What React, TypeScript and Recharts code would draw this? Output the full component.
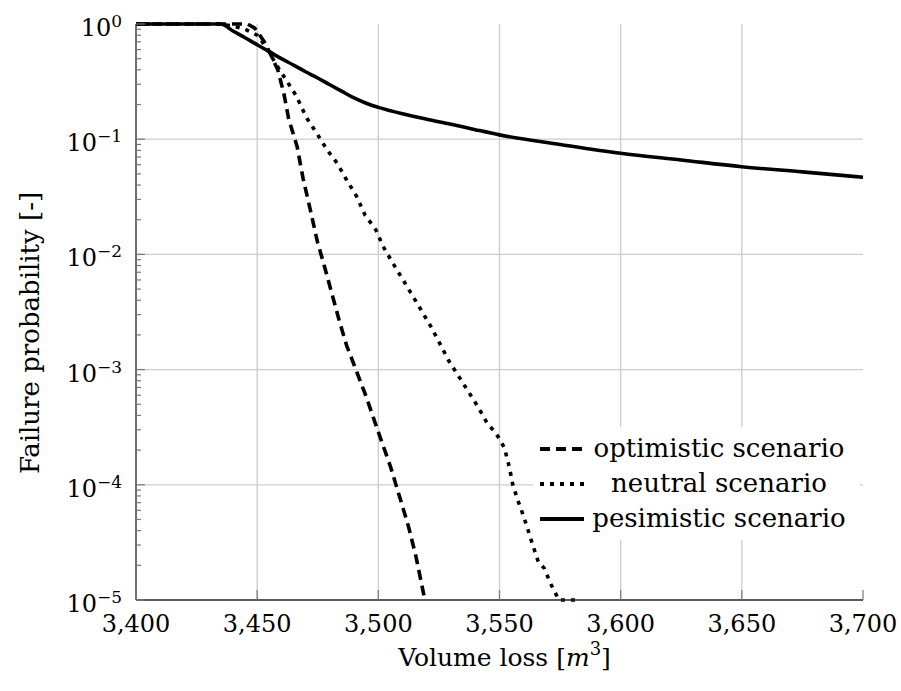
import React from "react"
import {
  LineChart,
  Line,
  XAxis,
  YAxis,
  ReferenceLine,
  Legend,
} from "recharts"

const FONT = '"DejaVu Serif", "Liberation Serif", serif'

// volume loss [m^3] vs. failure probability, one pair of arrays per scenario
const optimisticVolume = [
  3400, 3446, 3449, 3453, 3456, 3458.5, 3461, 3463, 3466.5, 3469, 3472, 3475,
  3477, 3480, 3484, 3487, 3490, 3495, 3499, 3505, 3509, 3512.5, 3515.5, 3519.2,
]
const optimisticProb = [
  1, 1, 0.92, 0.7, 0.52, 0.4, 0.25, 0.15, 0.086, 0.045, 0.024, 0.0125, 0.009,
  0.0053, 0.0026, 0.0016, 0.0011, 0.00058, 0.00033, 0.000144, 0.000076,
  0.000043, 0.000024, 0.00001,
]

const neutralVolume = [
  3400, 3434, 3440, 3445, 3450, 3454, 3457.5, 3461.5, 3466, 3470.5, 3475, 3479,
  3483, 3487, 3491, 3494.5, 3499, 3502, 3506, 3512, 3518, 3522, 3529, 3535,
  3541, 3545, 3548, 3550, 3552, 3554, 3555.5, 3557.5, 3560, 3563.5, 3566,
  3568.5, 3571, 3574.5, 3583.5,
]
const neutralProb = [
  1, 1, 0.96, 0.9, 0.8, 0.62, 0.456, 0.338, 0.24, 0.152, 0.109, 0.08, 0.062,
  0.044, 0.032, 0.022, 0.0163, 0.0117, 0.0084, 0.0052, 0.0032, 0.0023, 0.0012,
  0.00076, 0.00048, 0.00034, 0.00029, 0.00025, 0.00021, 0.000144, 0.0001,
  0.000074, 0.000053, 0.000031, 0.0000215, 0.0000188, 0.000014, 0.00001,
  0.00001,
]

const pessimisticVolume = [
  3400, 3435, 3440, 3445, 3450, 3455, 3460, 3465, 3470, 3475, 3480, 3485, 3490,
  3495, 3500, 3510, 3520, 3530, 3540, 3550, 3575, 3600, 3625, 3650, 3675, 3700,
]
const pessimisticProb = [
  1, 1, 0.87, 0.76, 0.66, 0.575, 0.5, 0.44, 0.385, 0.34, 0.297, 0.26, 0.228,
  0.205, 0.189, 0.166, 0.149, 0.135, 0.121, 0.109, 0.09, 0.0754, 0.066, 0.0577,
  0.052, 0.0467,
]

const xTicks = [3400, 3450, 3500, 3550, 3600, 3650, 3700]
const xTickLabels = ["3,400", "3,450", "3,500", "3,550", "3,600", "3,650", "3,700"]
const yMajorTicks = [1e-5, 1e-4, 1e-3, 1e-2, 1e-1, 1]
const yExponents = ["\u22125", "\u22124", "\u22123", "\u22122", "\u22121", "0"]
const minorMultipliers = [2, 3, 4, 5, 6, 7, 8, 9]

const yMinorTicks = yMajorTicks
  .slice(0, -1)
  .flatMap((d) => minorMultipliers.map((m) => m * d))
const yAllTicks = [...yMajorTicks, ...yMinorTicks].sort((a, b) => a - b)

const toPoints = (vol: number[], prob: number[]) =>
  vol.map((v, i) => ({ volume: v, prob: prob[i] }))

const series = [
  {
    key: "optimistic",
    name: "optimistic scenario",
    data: toPoints(optimisticVolume, optimisticProb),
    dash: "10 6",
    type: "linear" as const,
  },
  {
    key: "neutral",
    name: "neutral scenario",
    data: toPoints(neutralVolume, neutralProb),
    dash: "4 6",
    type: "linear" as const,
  },
  {
    key: "pessimistic",
    name: "pesimistic scenario",
    data: toPoints(pessimisticVolume, pessimisticProb),
    dash: undefined,
    type: "monotone" as const,
  },
]

const CHART_W = 901
const CHART_H = 691
const MARGIN = { top: 24, right: 38, bottom: 0, left: 0 }
const X_AXIS_HEIGHT = 91
const Y_AXIS_WIDTH = 136
const PLOT_BOTTOM = CHART_H - X_AXIS_HEIGHT
const PLOT_MID_X = (Y_AXIS_WIDTH + CHART_W - MARGIN.right) / 2

const TICK_COLOR = "#777"
const GRID_COLOR = "#cccccc"
const FRAME = { stroke: "#222", strokeWidth: 1.3 }

function LeftTick(props: any) {
  const { x, y, payload } = props
  const idx = yMajorTicks.indexOf(payload.value)
  const major = idx >= 0
  return (
    <g>
      <line x1={x} y1={y} x2={x + (major ? 9 : 5)} y2={y} stroke={TICK_COLOR} strokeWidth={1.2} />
      {major && (
        <text x={x - 14} y={y + 12} textAnchor="end" fontFamily={FONT} fontSize={24} fill="#000">
          <tspan>10</tspan>
          <tspan dy={-9} fontSize={17}>
            {yExponents[idx]}
          </tspan>
        </text>
      )}
    </g>
  )
}

function RightTick(props: any) {
  const { x, y, payload } = props
  const major = yMajorTicks.includes(payload.value)
  return <line x1={x} y1={y} x2={x - (major ? 9 : 5)} y2={y} stroke={TICK_COLOR} strokeWidth={1.2} />
}

function BottomTick(props: any) {
  const { x, y, payload } = props
  const idx = xTicks.indexOf(payload.value)
  return (
    <g>
      <line x1={x} y1={y} x2={x} y2={y - 10} stroke={TICK_COLOR} strokeWidth={1.2} />
      <text x={x} y={y + 32} textAnchor="middle" fontFamily={FONT} fontSize={24} fill="#000">
        {xTickLabels[idx]}
      </text>
    </g>
  )
}

function TopTick(props: any) {
  const { x, y } = props
  return <line x1={x} y1={y} x2={x} y2={y + 10} stroke={TICK_COLOR} strokeWidth={1.2} />
}

// axis titles, drawn over the chart svg
const Y_TITLE_X = 39
const Y_TITLE_Y = 333

function AxisTitles() {
  return (
    <svg
      width={CHART_W}
      height={CHART_H}
      style={{ position: "absolute", left: 0, top: 0, pointerEvents: "none" }}
    >
      <text
        x={PLOT_MID_X + 5}
        y={PLOT_BOTTOM + 66}
        textAnchor="middle"
        fontFamily={FONT}
        fontSize={25}
        fill="#000"
      >
        <tspan>Volume loss [</tspan>
        <tspan fontStyle="italic">m</tspan>
        <tspan dy={-11} fontSize={18}>
          3
        </tspan>
        <tspan dy={11}>]</tspan>
      </text>
      <text
        x={Y_TITLE_X}
        y={Y_TITLE_Y}
        transform={`rotate(-90 ${Y_TITLE_X} ${Y_TITLE_Y})`}
        textAnchor="middle"
        fontFamily={FONT}
        fontSize={26}
        fill="#000"
      >
        Failure probability [-]
      </text>
    </svg>
  )
}

function LegendBox() {
  return (
    <div
      style={{
        background: "#fff",
        width: 327,
        padding: "4px 0",
        fontFamily: FONT,
        fontSize: 26,
        color: "#000",
      }}
    >
      {series.map((s) => (
        <div key={s.key} style={{ display: "flex", alignItems: "center", height: 35 }}>
          <svg width={55} height={10} style={{ flex: "none" }}>
            <line x1={7} y1={5} x2={51} y2={5} stroke="#000" strokeWidth={4} strokeDasharray={s.dash} />
          </svg>
          <span style={{ width: 262, textAlign: "center", whiteSpace: "nowrap", lineHeight: "35px" }}>
            {s.name}
          </span>
        </div>
      ))}
    </div>
  )
}

export default function App() {
  return (
    <div
      style={{
        position: "absolute",
        left: 0,
        top: 0,
        width: CHART_W,
        height: CHART_H,
        background: "#fff",
      }}
    >
      <LineChart width={CHART_W} height={CHART_H} margin={MARGIN}>
        <XAxis
          xAxisId="bottom"
          type="number"
          dataKey="volume"
          domain={[3400, 3700]}
          ticks={xTicks}
          interval={0}
          height={X_AXIS_HEIGHT}
          tickSize={0}
          tickMargin={0}
          tickLine={false}
          axisLine={FRAME}
          tick={(p: any) => <BottomTick {...p} />}
        />
        <XAxis
          xAxisId="top"
          orientation="top"
          type="number"
          domain={[3400, 3700]}
          allowDataOverflow
          ticks={xTicks}
          interval={0}
          height={0}
          tickSize={0}
          tickMargin={0}
          tickLine={false}
          axisLine={FRAME}
          tick={(p: any) => <TopTick {...p} />}
        />
        <YAxis
          yAxisId="left"
          type="number"
          scale="log"
          domain={[1e-5, 1]}
          ticks={yAllTicks}
          interval={0}
          width={Y_AXIS_WIDTH}
          tickSize={0}
          tickMargin={0}
          tickLine={false}
          axisLine={FRAME}
          tick={(p: any) => <LeftTick {...p} />}
        />
        <YAxis
          yAxisId="right"
          orientation="right"
          type="number"
          scale="log"
          domain={[1e-5, 1]}
          allowDataOverflow
          ticks={yAllTicks}
          interval={0}
          width={0}
          tickSize={0}
          tickMargin={0}
          tickLine={false}
          axisLine={FRAME}
          tick={(p: any) => <RightTick {...p} />}
        />

        {/* grid at the major ticks */}
        {xTicks.slice(1, -1).map((v) => (
          <ReferenceLine key={`gx${v}`} x={v} xAxisId="bottom" yAxisId="left" stroke={GRID_COLOR} strokeWidth={1.3} />
        ))}
        {yMajorTicks.slice(1, -1).map((v) => (
          <ReferenceLine key={`gy${v}`} y={v} xAxisId="bottom" yAxisId="left" stroke={GRID_COLOR} strokeWidth={1.3} />
        ))}

        {series.map((s) => (
          <Line
            key={s.key}
            xAxisId="bottom"
            yAxisId="left"
            data={s.data}
            dataKey="prob"
            name={s.name}
            type={s.type}
            stroke="#000"
            strokeWidth={3.6}
            strokeDasharray={s.dash}
            dot={false}
            activeDot={false}
            isAnimationActive={false}
          />
        ))}

        <Legend
          layout="vertical"
          align="center"
          verticalAlign="middle"
          wrapperStyle={{ left: 533, top: 427, width: 327 }}
          content={() => <LegendBox />}
        />
      </LineChart>
      <AxisTitles />
    </div>
  )
}
